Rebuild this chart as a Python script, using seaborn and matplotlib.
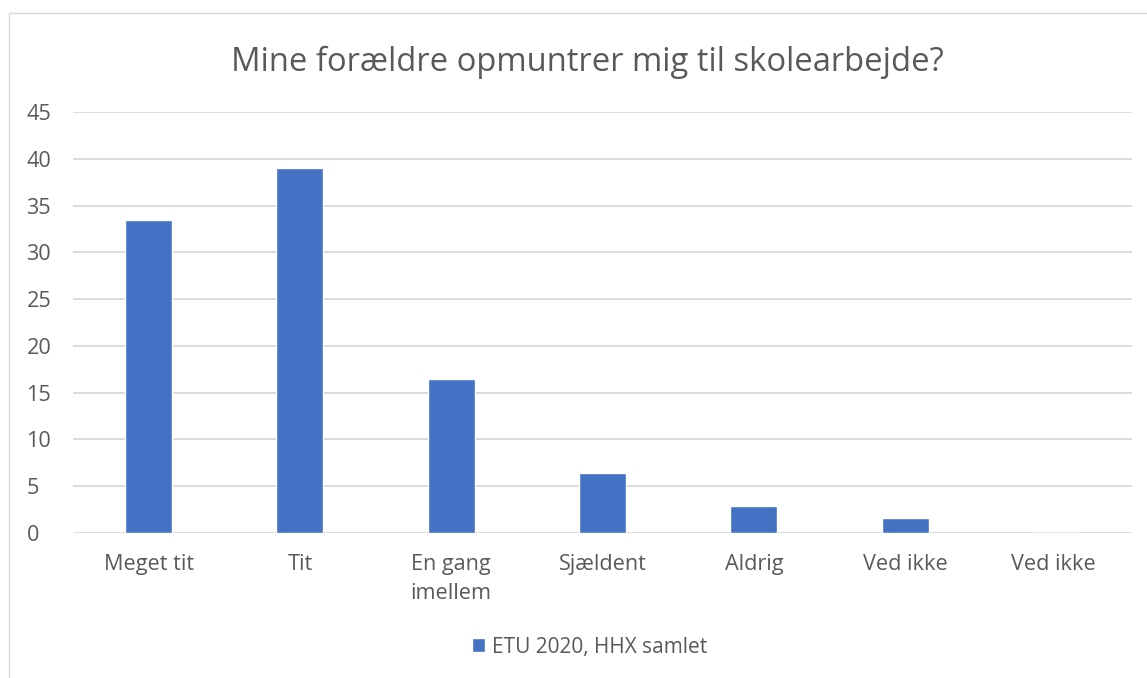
import matplotlib
matplotlib.use("Agg")
import matplotlib.pyplot as plt
import seaborn as sns
import pandas as pd
from matplotlib.patches import Rectangle

categories = ["Meget tit", "Tit", "En gang\nimellem", "Sjældent", "Aldrig", "Ved ikke", "Ved ikke "]
values = [33.5, 39.0, 16.5, 6.4, 2.9, 1.6, 0.0]
series_name = "ETU 2020, HHX samlet"
title = "Mine forældre opmuntrer mig til skolearbejde?"
yticks = [0, 5, 10, 15, 20, 25, 30, 35, 40, 45]

sns.set_theme(style="white")
plt.rcParams["font.family"] = ["Open Sans", "DejaVu Sans"]

text_color = "#595959"
grid_color = "#d9d9d9"
bar_color = "#4472C4"

df = pd.DataFrame({"kategori": categories, "andel": values, "serie": series_name})

fig = plt.figure(figsize=(11.47, 6.78), dpi=100)
fig.patch.set_facecolor("white")
# chart frame
fig.patches.append(Rectangle((9 / 1147, -0.1), 1.2, (678 - 13) / 678 + 0.1,
                             transform=fig.transFigure, fill=False,
                             edgecolor="#d9d9d9", linewidth=1.0))

ax = fig.add_axes([73 / 1147, 1 - 533 / 678, (1132 - 73) / 1147, (533 - 112) / 678])
sns.barplot(data=df, x="kategori", y="andel", hue="serie", palette=[bar_color],
            width=0.31, ax=ax, legend=True, saturation=1)

ax.set_ylim(0, 45)
ax.set_xlim(-0.5, len(categories) - 0.5)
ax.set_yticks(yticks)
ax.yaxis.grid(True, color=grid_color, linewidth=1.3)
ax.set_axisbelow(True)
for s in ax.spines.values():
    s.set_visible(False)
ax.set_xlabel("")
ax.set_ylabel("")
ax.tick_params(axis="both", length=0, labelsize=15.6, colors=text_color)
ax.tick_params(axis="y", pad=33.5)
ax.tick_params(axis="x", pad=15)
for lbl in ax.get_yticklabels():
    lbl.set_horizontalalignment("left")
for lbl in ax.get_xticklabels():
    lbl.set_linespacing(1.5)

fig.text(0.512, 1 - 62 / 678, title, ha="center", va="center", fontsize=23.6, color=text_color)

leg = ax.get_legend()
leg.remove()
handles = [Rectangle((0, 0), 1, 1, facecolor=bar_color)]
fig.legend(handles, [series_name], loc="center", bbox_to_anchor=(0.514, 1 - 647 / 678),
           frameon=False, fontsize=15, handlelength=0.62, handleheight=0.62,
           handletextpad=0.3, labelcolor=text_color)

fig.savefig("out.png", dpi=100, facecolor="white")
